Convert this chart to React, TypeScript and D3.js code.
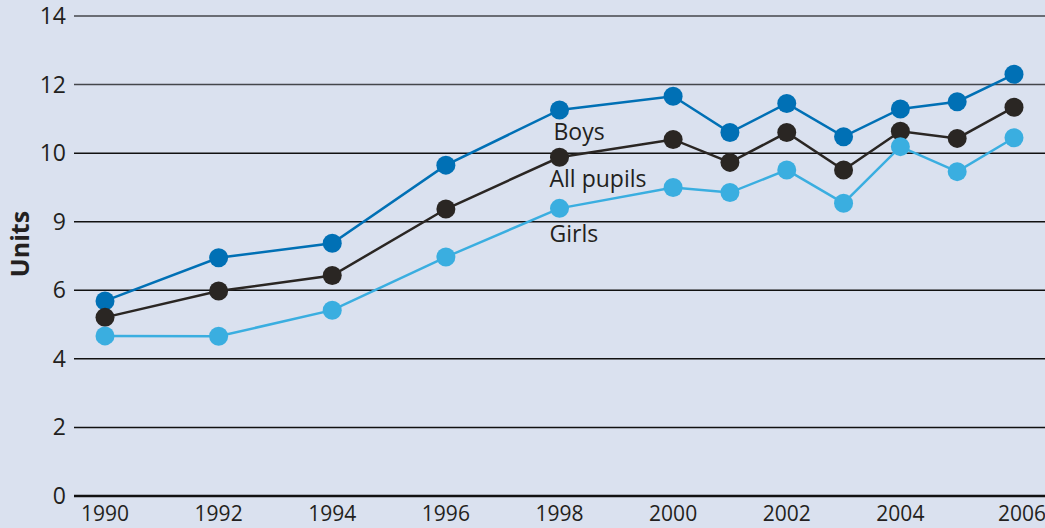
import React from "react";
import { scaleLinear, line } from "d3";

const years = [1990, 1992, 1994, 1996, 1998, 2000, 2001, 2002, 2003, 2004, 2005, 2006];
const boys = [5.69, 6.95, 7.37, 9.65, 11.26, 11.66, 10.6, 11.45, 10.48, 11.29, 11.5, 12.3];
const allPupils = [5.21, 5.98, 6.43, 8.37, 9.88, 10.4, 9.73, 10.6, 9.51, 10.64, 10.43, 11.34];
const girls = [4.67, 4.66, 5.42, 6.97, 8.39, 9.0, 8.85, 9.51, 8.54, 10.19, 9.46, 10.45];

const yTickValues = [0, 2, 4, 6, 8, 10, 12, 14];
const yTickLabels = ["0", "2", "4", "6", "9", "10", "12", "14"];
const xTickYears = [1990, 1992, 1994, 1996, 1998, 2000, 2002, 2004, 2006];

const seriesNames = ["Boys", "All pupils", "Girls"];
const seriesColors = ["#0070b5", "#2a2623", "#3aaee0"];

const W = 1045;
const H = 528;
const FONT = "'Open Sans', 'Liberation Sans', sans-serif";

export default function App() {
  const x = scaleLinear().domain([1990, 2006]).range([105, 1014]);
  const y = scaleLinear().domain([0, 14]).range([496, 16]);

  const series = [boys, allPupils, girls];
  const path = line<number>()
    .x((d, i) => x(years[i]))
    .y(d => y(d));

  // label placement (year, value) next to the 1998 points
  const labelPos = [
    { year: 1998, value: 10.38, dx: -6 },
    { year: 1998, value: 9.01, dx: -10 },
    { year: 1998, value: 7.41, dx: -10 },
  ];

  return (
    <svg
      width={W}
      height={H}
      style={{ position: "absolute", left: 0, top: 0, background: "#dae1ef" }}
    >
      <rect x={0} y={0} width={W} height={H} fill="#dae1ef" />
      {yTickValues.map((v, i) => (
        <g key={v}>
          <line
            x1={74}
            x2={W}
            y1={y(v)}
            y2={y(v)}
            stroke={v >= 12 ? "#44464b" : "#111"}
            strokeWidth={v === 0 ? 2.5 : 1.5}
          />
          <text
            x={66}
            y={y(v)}
            dy="0.35em"
            textAnchor="end"
            fontFamily={FONT}
            fontSize={23}
            fill="#231f20"
          >
            {yTickLabels[i]}
          </text>
        </g>
      ))}
      {xTickYears.map(yr => (
        <text
          key={yr}
          x={Math.min(x(yr) + (yr === 2006 ? 8 : 0), W - 23)}
          y={521}
          textAnchor="middle"
          fontFamily={FONT}
          fontSize={21}
          fill="#231f20"
        >
          {yr}
        </text>
      ))}
      <text
        transform={`translate(29,244) rotate(-90)`}
        textAnchor="middle"
        fontFamily={FONT}
        fontWeight="bold"
        fontSize={25}
        fill="#231f20"
      >
        Units
      </text>
      {series.map((s, si) => (
        <g key={seriesNames[si]}>
          <path d={path(s) || ""} fill="none" stroke={seriesColors[si]} strokeWidth={2.5} />
          {s.map((v, i) => (
            <circle key={i} cx={x(years[i])} cy={y(v)} r={9.5} fill={seriesColors[si]} />
          ))}
        </g>
      ))}
      {seriesNames.map((n, i) => (
        <text
          key={n}
          x={x(labelPos[i].year) + labelPos[i].dx}
          y={y(labelPos[i].value)}
          fontFamily={FONT}
          fontSize={23}
          fill="#231f20"
        >
          {n}
        </text>
      ))}
    </svg>
  );
}
